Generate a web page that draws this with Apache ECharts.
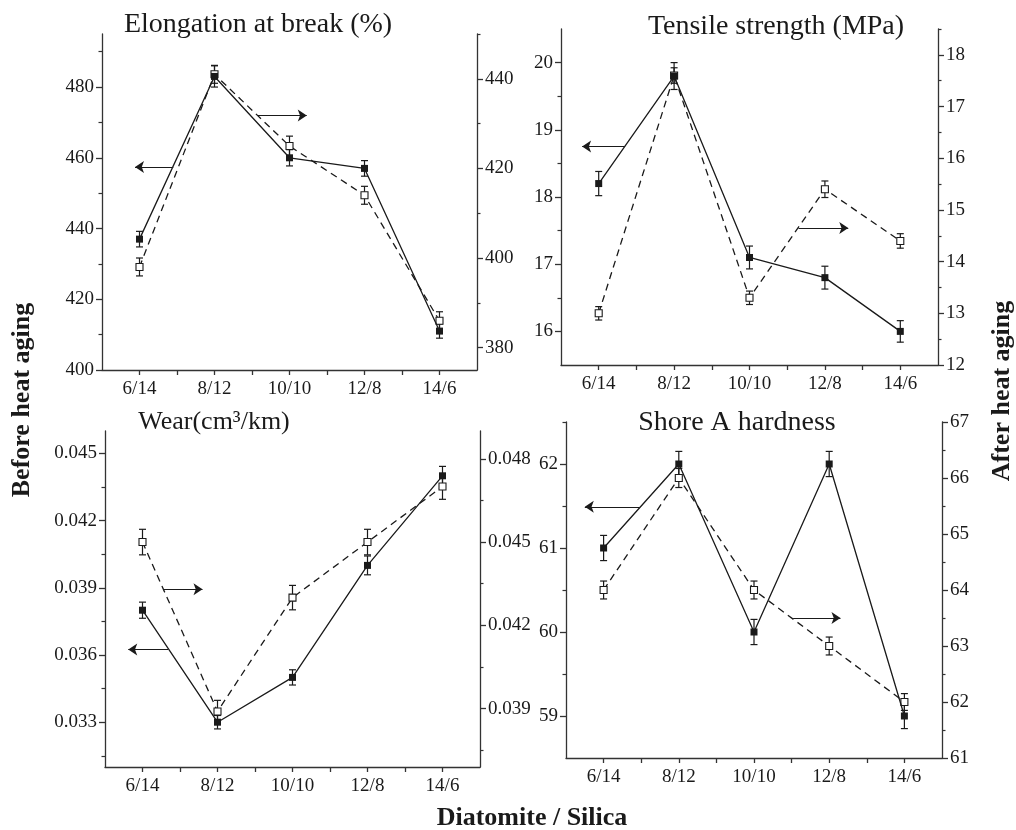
<!DOCTYPE html>
<html>
<head>
<meta charset="utf-8">
<title>Diatomite / Silica</title>
<script src="https://cdn.jsdelivr.net/npm/echarts@6/dist/echarts.min.js"></script>
<style>
  html, body { margin: 0; padding: 0; background: #fff; }
  #chart { width: 1016px; height: 830px; }
</style>
</head>
<body>
<div id="chart"></div>
<script>
const categories = ["6/14", "8/12", "10/10", "12/8", "14/6"];
const xTicks = [0, 0.5, 1, 1.5, 2, 2.5, 3, 3.5, 4];
const xLabels = [0, 1, 2, 3, 4];

// elongation at break (%)
const elongBefore = [437, 483, 460, 457, 411];
const elongBeforeErr = [2.2, 3, 2.3, 2.2, 2];
const elongAfter = [398, 441, 425, 414, 386];
const elongAfterErr = [2, 2, 2.2, 2, 2];
const elongLeftTicks = [400, 420, 440, 460, 480];
const elongLeftMinor = [410, 430, 450, 470, 490];
const elongRightTicks = [380, 400, 420, 440];
const elongRightMinor = [390, 410, 430, 450];
const elongArrowLeft = [[0.45, 457.4], [-0.06, 457.4]];
const elongArrowRight = [[1.58, 431.8], [2.23, 431.8]];

// tensile strength (MPa)
const tensileBefore = [18.2, 19.8, 17.1, 16.8, 16.0];
const tensileBeforeErr = [0.18, 0.2, 0.17, 0.17, 0.16];
const tensileAfter = [13.0, 17.6, 13.3, 15.4, 14.4];
const tensileAfterErr = [0.13, 0.15, 0.13, 0.16, 0.14];
const tensileLeftTicks = [16, 17, 18, 19, 20];
const tensileLeftMinor = [16.5, 17.5, 18.5, 19.5];
const tensileRightTicks = [12, 13, 14, 15, 16, 17, 18];
const tensileRightMinor = [12.5, 13.5, 14.5, 15.5, 16.5, 17.5, 18.5];
const tensileArrowLeft = [[0.35, 18.75], [-0.22, 18.75]];
const tensileArrowRight = [[2.65, 14.65], [3.31, 14.65]];

// wear (cm3/km)
const wearBefore = [0.038, 0.033, 0.035, 0.040, 0.044];
const wearBeforeErr = [0.00036, 0.0003, 0.00034, 0.00042, 0.00042];
const wearAfter = [0.045, 0.0389, 0.043, 0.045, 0.047];
const wearAfterErr = [0.00046, 0.0004, 0.00044, 0.00046, 0.00046];
const wearLeftTicks = [0.033, 0.036, 0.039, 0.042, 0.045];
const wearLeftMinor = [0.0315, 0.0345, 0.0375, 0.0405, 0.0435];
const wearRightTicks = [0.039, 0.042, 0.045, 0.048];
const wearRightMinor = [0.0375, 0.0405, 0.0435, 0.0465];
const wearArrowLeft = [[0.34, 0.03625], [-0.19, 0.03625]];
const wearArrowRight = [[0.28, 0.0433], [0.8, 0.0433]];

// shore A hardness
const shoreBefore = [61, 62, 60, 62, 59];
const shoreBeforeErr = [0.15, 0.15, 0.15, 0.15, 0.15];
const shoreAfter = [64, 66, 64, 63, 62];
const shoreAfterErr = [0.16, 0.17, 0.16, 0.16, 0.15];
const shoreLeftTicks = [59, 60, 61, 62];
const shoreLeftMinor = [59.5, 60.5, 61.5, 62.5];
const shoreRightTicks = [61, 62, 63, 64, 65, 66, 67];
const shoreRightMinor = [61.5, 62.5, 63.5, 64.5, 65.5, 66.5];
const shoreArrowLeft = [[0.48, 61.49], [-0.25, 61.49]];
const shoreArrowRight = [[2.52, 63.5], [3.15, 63.5]];

const FONT = '"Liberation Serif", "Times New Roman", serif';
const INK = "#1a1a1a";
const AXIS = "#333";

const plain = (v) => String(v);
const three = (v) => v.toFixed(3);

const panels = [
    { grid: { left: 102, top: 34, width: 375, height: 336 },
      left: [400, 495], right: [375, 450],
      leftTicks: elongLeftTicks, leftMinor: elongLeftMinor,
      rightTicks: elongRightTicks, rightMinor: elongRightMinor,
      before: elongBefore, beforeErr: elongBeforeErr, after: elongAfter, afterErr: elongAfterErr,
      arrowLeft: elongArrowLeft, arrowRight: elongArrowRight, fmt: plain },
    { grid: { left: 561, top: 29, width: 377, height: 336 },
      left: [15.5, 20.5], right: [12, 18.5],
      leftTicks: tensileLeftTicks, leftMinor: tensileLeftMinor,
      rightTicks: tensileRightTicks, rightMinor: tensileRightMinor,
      before: tensileBefore, beforeErr: tensileBeforeErr, after: tensileAfter, afterErr: tensileAfterErr,
      arrowLeft: tensileArrowLeft, arrowRight: tensileArrowRight, fmt: plain },
    { grid: { left: 105, top: 431, width: 375, height: 336 },
      left: [0.031, 0.046], right: [0.0369, 0.049],
      leftTicks: wearLeftTicks, leftMinor: wearLeftMinor,
      rightTicks: wearRightTicks, rightMinor: wearRightMinor,
      before: wearBefore, beforeErr: wearBeforeErr, after: wearAfter, afterErr: wearAfterErr,
      arrowLeft: wearArrowLeft, arrowRight: wearArrowRight, fmt: three },
    { grid: { left: 566, top: 422, width: 376, height: 336 },
      left: [58.5, 62.5], right: [61, 67],
      leftTicks: shoreLeftTicks, leftMinor: shoreLeftMinor,
      rightTicks: shoreRightTicks, rightMinor: shoreRightMinor,
      before: shoreBefore, beforeErr: shoreBeforeErr, after: shoreAfter, afterErr: shoreAfterErr,
      arrowLeft: shoreArrowLeft, arrowRight: shoreArrowRight, fmt: plain },
];

function yAxisMain(g, pos, range, ticks, fmt) {
    return {
        type: "value", gridIndex: g, position: pos, min: range[0], max: range[1],
        axisLine: { show: true, onZero: false, lineStyle: { color: AXIS, width: 1.3 } },
        axisTick: { show: true, length: 6, customValues: ticks, lineStyle: { color: AXIS, width: 1.3 } },
        axisLabel: { customValues: ticks, formatter: fmt, color: INK, fontFamily: FONT, fontSize: 19, margin: 8 },
        splitLine: { show: false },
    };
}

// second axis on the same side, only for the short minor ticks
function yAxisMinor(g, pos, range, ticks) {
    return {
        type: "value", gridIndex: g, position: pos, min: range[0], max: range[1],
        axisLine: { show: false, onZero: false },
        axisTick: { show: true, length: 3.5, customValues: ticks, lineStyle: { color: AXIS, width: 1.2 } },
        axisLabel: { show: false },
        splitLine: { show: false },
    };
}

function errorBars(g, yIdx, vals, errs) {
    return {
        type: "custom", xAxisIndex: g, yAxisIndex: yIdx, z: 1, silent: true,
        data: vals.map((v, i) => [i, v, errs[i]]),
        renderItem: (params, api) => {
            const x = api.value(0), y = api.value(1), e = api.value(2);
            const top = api.coord([x, y + e]);
            const bot = api.coord([x, y - e]);
            const st = { stroke: INK, lineWidth: 1.2 };
            const w = 3.5;
            return { type: "group", children: [
                { type: "line", shape: { x1: top[0], y1: top[1], x2: bot[0], y2: bot[1] }, style: st },
                { type: "line", shape: { x1: top[0] - w, y1: top[1], x2: top[0] + w, y2: top[1] }, style: st },
                { type: "line", shape: { x1: bot[0] - w, y1: bot[1], x2: bot[0] + w, y2: bot[1] }, style: st },
            ] };
        },
    };
}

function arrow(a) {
    return {
        silent: true, symbol: ["none", "arrow"], symbolSize: 9, animation: false,
        label: { show: false },
        lineStyle: { color: INK, width: 1.2, type: "solid" },
        emphasis: { disabled: true },
        data: [[{ coord: a[0] }, { coord: a[1] }]],
    };
}

const grids = [], xAxes = [], yAxes = [], series = [];
panels.forEach((p, g) => {
    grids.push(p.grid);
    xAxes.push({
        type: "value", gridIndex: g, position: "bottom", min: -0.5, max: 4.5,
        axisLine: { show: true, onZero: false, lineStyle: { color: AXIS, width: 1.3 } },
        axisTick: { show: true, length: 5, customValues: xTicks, lineStyle: { color: AXIS, width: 1.3 } },
        axisLabel: { customValues: xLabels, formatter: (v) => categories[Math.round(v)],
            color: INK, fontFamily: FONT, fontSize: 19, margin: 10 },
        splitLine: { show: false },
    });
    yAxes.push(yAxisMain(g, "left", p.left, p.leftTicks, p.fmt));
    yAxes.push(yAxisMain(g, "right", p.right, p.rightTicks, p.fmt));
    yAxes.push(yAxisMinor(g, "left", p.left, p.leftMinor));
    yAxes.push(yAxisMinor(g, "right", p.right, p.rightMinor));

    series.push(errorBars(g, 4 * g, p.before, p.beforeErr));
    series.push(errorBars(g, 4 * g + 1, p.after, p.afterErr));
    series.push({
        type: "line", xAxisIndex: g, yAxisIndex: 4 * g, z: 3,
        data: p.before.map((v, i) => [i, v]),
        symbol: "rect", symbolSize: 7, showSymbol: true,
        itemStyle: { color: INK },
        lineStyle: { color: INK, width: 1.3 },
        markLine: arrow(p.arrowLeft),
    });
    series.push({
        type: "line", xAxisIndex: g, yAxisIndex: 4 * g + 1, z: 2,
        data: p.after.map((v, i) => [i, v]),
        symbol: "rect", symbolSize: 7, showSymbol: true,
        itemStyle: { color: "#fff", borderColor: INK, borderWidth: 1.1 },
        lineStyle: { color: INK, width: 1.3, type: [7, 5] },
        markLine: arrow(p.arrowRight),
    });
});

function label(x, y, text, font, rot) {
    return {
        type: "text", x: x, y: y, rotation: rot || 0, silent: true,
        style: { text: text, font: font, fill: INK,
            align: "center", verticalAlign: "middle",
            textAlign: "center", textVerticalAlign: "middle" },
    };
}

const chart = echarts.init(document.getElementById("chart"), null, { renderer: "canvas" });
chart.setOption({
    backgroundColor: "#fff",
    animation: false,
    grid: grids,
    xAxis: xAxes,
    yAxis: yAxes,
    series: series,
    graphic: [
        label(258, 25, "Elongation at break (%)", "28px " + FONT),
        label(776, 27, "Tensile strength (MPa)", "28px " + FONT),
        label(214, 422, "Wear(cm³/km)", "26px " + FONT),
        label(737, 423, "Shore A hardness", "28px " + FONT),
        label(22, 400, "Before heat aging", "bold 26px " + FONT, Math.PI / 2),
        label(1002, 391, "After heat aging", "bold 26px " + FONT, Math.PI / 2),
        label(532, 818, "Diatomite / Silica", "bold 26px " + FONT),
    ],
});
</script>
</body>
</html>
